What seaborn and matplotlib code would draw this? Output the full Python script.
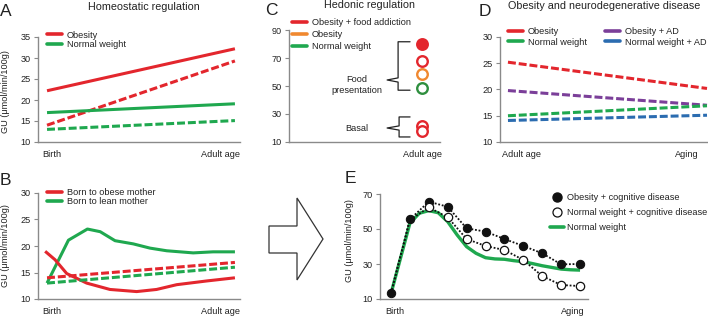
import numpy as np
import pandas as pd
import matplotlib
matplotlib.use("Agg")
import matplotlib.pyplot as plt
import seaborn as sns
from matplotlib.patches import Polygon
from matplotlib.lines import Line2D

# ---------------- data ----------------
# Panel A: homeostatic regulation (Birth -> Adult age)
A_x = [0.0, 1.0]
A_obese_solid = [22.2, 32.2]
A_obese_dash = [14.0, 29.3]
A_normal_solid = [17.0, 19.1]
A_normal_dash = [13.0, 15.1]

# Panel B: born to obese / lean mother
B_lean_x = [0.0, 0.062, 0.114, 0.215, 0.283, 0.362, 0.459, 0.548, 0.637, 0.778, 0.884, 1.0]
B_lean_y = [13.0, 17.4, 21.1, 23.2, 22.7, 21.0, 20.4, 19.6, 19.1, 18.7, 18.9, 18.9]
B_obese_x = [-0.01, 0.043, 0.105, 0.211, 0.335, 0.477, 0.583, 0.69, 0.849, 1.0]
B_obese_y = [19.0, 17.4, 14.8, 13.0, 11.8, 11.4, 11.8, 12.7, 13.4, 14.0]
B_dash_x = [0.0, 1.0]
B_obese_dash = [14.0, 16.9]
B_lean_dash = [13.0, 16.0]

# Panel C: hedonic regulation at adult age
C_x = 4
C_food = {"obesity_addiction": 80.0, "obesity_addiction_open": 67.5,
          "obesity": 58.5, "normal": 48.5}
C_basal = [21.5, 17.5]

# Panel D: obesity and neurodegenerative disease
D_x = [0.0, 1.0]
D_obese = [25.2, 20.2]
D_obese_ad = [19.8, 17.0]
D_normal = [15.0, 16.9]
D_normal_ad = [14.1, 15.1]

# Panel E: lifespan curves
E_idx = list(range(11))
E_obese_cog = [13.3, 55.5, 65.6, 62.7, 50.4, 48.5, 44.3, 40.3, 36.1, 29.8, 30.0]
E_normal_cog = [13.3, 55.0, 62.4, 56.7, 44.3, 40.3, 38.0, 32.3, 23.1, 18.0, 17.4]
E_green_x = [0, 1, 1.5, 2, 2.5, 3, 3.5, 4, 4.5, 5, 5.5, 6, 6.5, 7, 7.5, 8, 9, 9.5, 10]
E_green_y = [13.0, 53.3, 59.0, 60.5, 59.3, 54.2, 46.6, 39.9, 36.1, 33.6, 32.9, 32.7,
             31.9, 31.3, 30.2, 29.0, 27.1, 26.7, 26.5]

RED = "#e3262d"
GREEN = "#1fa84f"
ORANGE = "#f0882f"
PURPLE = "#7b3f99"
BLUE = "#2b6cb0"
DGREEN = "#2f8f3f"
SPINE = "#8a8a8a"
TXT = "#222222"
FS = 6.6
DASH = [2.6, 0.95]

sns.set_theme(style="white")
plt.rcParams["font.family"] = ["Liberation Sans", "DejaVu Sans"]
plt.rcParams["axes.linewidth"] = 1.0

W, H = 708, 316
fig = plt.figure(figsize=(W / 100, H / 100), dpi=100)


def axes_px(x0, y0, x1, y1):
    return fig.add_axes([x0 / W, 1 - y1 / H, (x1 - x0) / W, (y1 - y0) / H])


def style(ax):
    for s in ["top", "right"]:
        ax.spines[s].set_visible(False)
    for s in ["left", "bottom"]:
        ax.spines[s].set_color(SPINE)
        ax.spines[s].set_linewidth(1.0)
    ax.tick_params(axis="y", direction="out", length=3, width=0.8, color=SPINE,
                   labelsize=FS, labelcolor=TXT, pad=2, left=True)
    ax.tick_params(axis="x", length=0, labelsize=FS, labelcolor=TXT, pad=6)
    ax.grid(False)
    ax.set_facecolor("none")


def line(ax, x, y, color, dashed=False, lw=2.2):
    sns.lineplot(x=x, y=y, ax=ax, color=color, linewidth=lw, sort=False,
                 estimator=None)
    ln = ax.lines[-1]
    ln.set_solid_capstyle("butt")
    if dashed:
        ln.set_dashes(DASH)
        ln.set_dash_capstyle("butt")
    return ln


def px_text(x, y, s, **kw):
    fig.text(x / W, 1 - y / H, s, **kw)


def leg(ax, handles, labels, x, y, ncol=1, hl=1.6, tp=0.55, ls=0.05, cs=1.0):
    lg = ax.legend(handles, labels, loc="upper left",
                   bbox_to_anchor=(x / W, 1 - y / H), bbox_transform=fig.transFigure,
                   frameon=False, fontsize=FS, handlelength=hl, handletextpad=tp,
                   labelspacing=ls, borderpad=0, borderaxespad=0, ncol=ncol,
                   columnspacing=cs)
    for t in lg.get_texts():
        t.set_color(TXT)
    return lg


# ---------------- Panel A ----------------
axA = axes_px(38, 37, 240, 142)
style(axA)
line(axA, A_x, A_obese_solid, RED)
line(axA, A_x, A_obese_dash, RED, dashed=True)
line(axA, A_x, A_normal_solid, GREEN)
line(axA, A_x, A_normal_dash, GREEN, dashed=True)
axA.set_ylim(10, 35)
axA.set_yticks([10, 15, 20, 25, 30, 35])
axA.set_xlim(-0.048, 1.027)
axA.set_xticks([0.027, 0.925])
axA.set_xticklabels(["Birth", "Adult age"])
leg(axA, [Line2D([], [], color=RED, lw=2.6), Line2D([], [], color=GREEN, lw=2.6)],
    ["Obesity", "Normal weight"], 47, 30.5)

# ---------------- Panel B ----------------
axB = axes_px(38, 193, 240, 299)
style(axB)
line(axB, B_lean_x, B_lean_y, GREEN)
line(axB, B_obese_x, B_obese_y, RED)
line(axB, B_dash_x, B_obese_dash, RED, dashed=True)
line(axB, B_dash_x, B_lean_dash, GREEN, dashed=True)
axB.set_ylim(10, 30)
axB.set_yticks([10, 15, 20, 25, 30])
axB.set_xlim(-0.048, 1.027)
axB.set_xticks([0.027, 0.925])
axB.set_xticklabels(["Birth", "Adult age"])
leg(axB, [Line2D([], [], color=RED, lw=2.6), Line2D([], [], color=GREEN, lw=2.6)],
    ["Born to obese mother", "Born to lean mother"], 47, 188)

# ---------------- Panel C ----------------
axC = axes_px(289, 30, 440, 142)
style(axC)
axC.set_ylim(10, 90)
axC.set_yticks([10, 30, 50, 70, 90])
axC.set_xlim(0, 4.54)
axC.set_xticks([1, 2, 3, 4])
axC.set_xticklabels(["", "", "", "Adult age"])
axC.tick_params(axis="x", length=3, width=0.8, color=SPINE, direction="out", pad=3)
ms = 7.6
mew = 1.7
cdf = pd.DataFrame({"x": [C_x] * 6,
                    "y": [C_basal[0], C_basal[1], C_food["normal"], C_food["obesity"],
                          C_food["obesity_addiction_open"], C_food["obesity_addiction"]],
                    "edge": [RED, RED, DGREEN, ORANGE, RED, RED],
                    "face": ["white", "white", "white", "white", "white", RED]})
for _, r in cdf.iterrows():
    sns.scatterplot(x=[r.x], y=[r.y], ax=axC, s=ms ** 2, marker="o",
                    facecolor=r.face, edgecolor=r.edge, linewidth=mew, zorder=3,
                    clip_on=False)


def brace(ax, x_line, x_arm, x_tip, y_top, y_bot, y_mid):
    ax.plot([x_arm, x_line, x_line, x_tip, x_line, x_line, x_arm],
            [y_top, y_top, y_mid + 1.5, y_mid, y_mid - 1.5, y_bot, y_bot],
            color=TXT, lw=0.9, solid_joinstyle="round", clip_on=False)


brace(axC, 3.28, 3.64, 2.95, 81.6, 47.0, 54.3)
brace(axC, 3.31, 3.64, 2.95, 27.9, 13.6, 20.0)
axC.text(2.03, 50.6, "Food\npresentation", ha="center", va="center", fontsize=FS,
         linespacing=1.2, color=TXT)
axC.text(2.05, 19.3, "Basal", ha="center", va="center", fontsize=FS, color=TXT)
leg(axC, [Line2D([], [], color=RED, lw=2.6), Line2D([], [], color=ORANGE, lw=2.6),
          Line2D([], [], color=GREEN, lw=2.6)],
    ["Obesity + food addiction", "Obesity", "Normal weight"], 292, 18, ls=0.32)

# ---------------- Panel D ----------------
axD = axes_px(500, 37, 708, 142)
style(axD)
line(axD, D_x, D_obese, RED, dashed=True)
line(axD, D_x, D_obese_ad, PURPLE, dashed=True)
line(axD, D_x, D_normal, GREEN, dashed=True)
line(axD, D_x, D_normal_ad, BLUE, dashed=True)
axD.set_ylim(10, 30)
axD.set_yticks([10, 15, 20, 25, 30])
axD.set_xlim(-0.04, 1.005)
axD.set_xticks([0.07, 0.9])
axD.set_xticklabels(["Adult age", "Aging"])
leg(axD, [Line2D([], [], color=RED, lw=2.6), Line2D([], [], color=GREEN, lw=2.6),
          Line2D([], [], color=PURPLE, lw=2.6), Line2D([], [], color=BLUE, lw=2.6)],
    ["Obesity", "Normal weight", "Obesity + AD", "Normal weight + AD"], 508, 27.5,
    ncol=2, cs=2.0, ls=0.12)

# ---------------- Panel E ----------------
axE = axes_px(380, 194, 588, 299)
style(axE)
line(axE, E_green_x, E_green_y, GREEN, lw=2.4)
sns.lineplot(x=E_idx, y=E_obese_cog, ax=axE, color="#111111", linewidth=1.3,
             linestyle=":", marker="o", markersize=6, markerfacecolor="#111111",
             markeredgecolor="#111111", estimator=None, sort=False)
axE.lines[-1].set_dashes([1.0, 1.0])
sns.lineplot(x=E_idx, y=E_normal_cog, ax=axE, color="#111111", linewidth=1.3,
             linestyle=":", marker="o", markersize=6, markerfacecolor="white",
             markeredgecolor="#111111", markeredgewidth=0.9, estimator=None, sort=False,
             markevery=list(range(2, 11)))
axE.lines[-1].set_dashes([1.0, 1.0])
axE.set_ylim(10, 70)
axE.set_yticks([10, 30, 50, 70])
axE.set_xlim(-0.58, 10.42)
axE.set_xticks([0.2, 9.6])
axE.set_xticklabels(["Birth", "Aging"])
for l in axE.lines:
    l.set_clip_on(False)
leg(axE, [Line2D([], [], color="#111111", marker="o", ls="none", markersize=6.5),
          Line2D([], [], color="#111111", marker="o", ls="none", markersize=6.5,
                 markerfacecolor="white", markeredgewidth=0.9),
          Line2D([], [], color=GREEN, lw=2.6)],
    ["Obesity + cognitive disease", "Normal weight + cognitive disease", "Normal weight"],
    550, 193.5, hl=1.55, tp=0.3, ls=0.62)

# ---------------- ylabels ----------------
for (x, y) in [(6, 92), (6, 246), (349, 241)]:
    px_text(x, y, "GU (μmol/min/100g)", rotation=90, ha="center", va="center",
            fontsize=FS, color=TXT)

# ---------------- titles and panel letters ----------------
px_text(144, 9.5, "Homeostatic regulation", ha="center", va="baseline", fontsize=7.75,
        color=TXT)
px_text(370, 8.5, "Hedonic regulation", ha="center", va="baseline", fontsize=7.75,
        color=TXT)
px_text(508, 9.3, "Obesity and neurodegenerative disease", ha="left", va="baseline",
        fontsize=7.75, color=TXT)
for (x, y, s) in [(0, 16, "A"), (0, 185, "B"), (265, 15, "C"), (479, 16, "D"),
                  (345, 183, "E")]:
    px_text(x, y, s, ha="left", va="baseline", fontsize=12.5, color=TXT)

# ---------------- arrow ----------------
pts = [(269, 226), (297, 226), (297, 198), (323, 239), (297, 280), (297, 253), (269, 253)]
arrow = Polygon([(x / W, 1 - y / H) for x, y in pts], closed=True, fill=False,
                edgecolor="#333333", lw=0.9, transform=fig.transFigure)
fig.patches.append(arrow)

fig.savefig("out.png", dpi=100)
